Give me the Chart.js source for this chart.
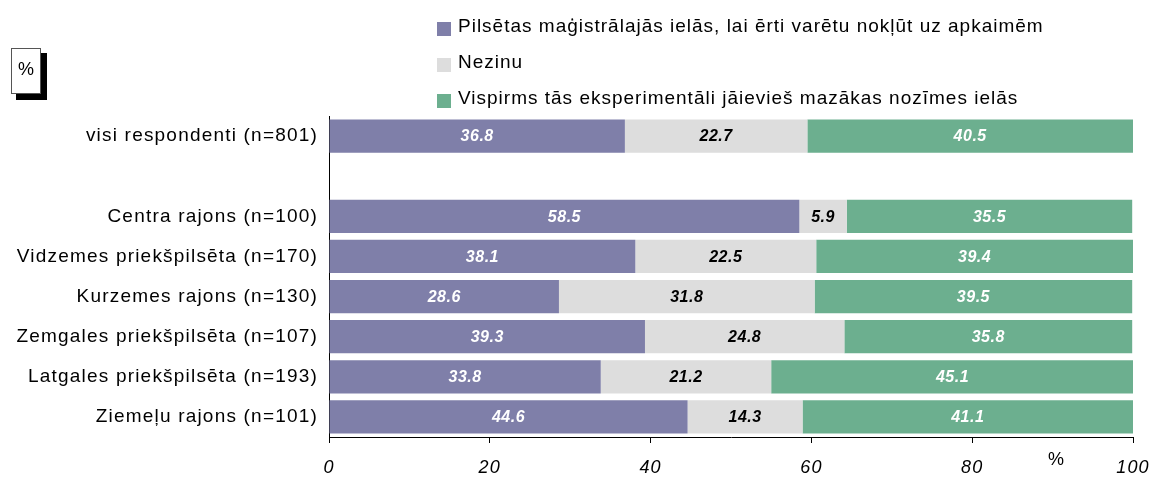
<!DOCTYPE html>
<html>
<head>
<meta charset="utf-8">
<script src="https://cdn.jsdelivr.net/npm/chart.js@4.4.1/dist/chart.umd.min.js"></script>
<style>
    html, body { margin: 0; padding: 0; background: #fff; }
    #wrap { width: 1153px; height: 477px; }
</style>
</head>
<body>
<div id="wrap"><canvas id="myChart" width="1153" height="477"></canvas></div>
<script>
// categories (empty one is the gap row under "visi respondenti")
const categories = [
    'visi respondenti (n=801)',
    '',
    'Centra rajons (n=100)',
    'Vidzemes priekšpilsēta (n=170)',
    'Kurzemes rajons (n=130)',
    'Zemgales priekšpilsēta (n=107)',
    'Latgales priekšpilsēta (n=193)',
    'Ziemeļu rajons (n=101)'
];
const seriesNames = [
    'Pilsētas maģistrālajās ielās, lai ērti varētu nokļūt uz apkaimēm',
    'Nezinu',
    'Vispirms tās eksperimentāli jāievieš mazākas nozīmes ielās'
];
const mainStreets = [36.8, null, 58.5, 38.1, 28.6, 39.3, 33.8, 44.6];
const dontKnow = [22.7, null, 5.9, 22.5, 31.8, 24.8, 21.2, 14.3];
const minorStreets = [40.5, null, 35.5, 39.4, 39.5, 35.8, 45.1, 41.1];
const xTicks = [0, 20, 40, 60, 80, 100];

const colors = ['#7f7fa9', '#dddddd', '#6caf8f'];
const labelColors = ['#ffffff', '#000000', '#ffffff'];
const fontFamily = '"Liberation Sans", Arial, sans-serif';

const barLabels = {
    id: 'barLabels',
    beforeDraw(chart) {
        chart.ctx.letterSpacing = '1.2px';
    },
    afterDatasetsDraw(chart) {
        const ctx = chart.ctx;
        ctx.save();
        ctx.letterSpacing = '0.5px';
        ctx.font = 'italic bold 16px ' + fontFamily;
        ctx.textAlign = 'center';
        ctx.textBaseline = 'middle';
        chart.data.datasets.forEach((ds, i) => {
            const meta = chart.getDatasetMeta(i);
            meta.data.forEach((bar, j) => {
                const v = ds.data[j];
                if (v == null) return;
                ctx.fillStyle = labelColors[i];
                ctx.fillText(v.toFixed(1), (bar.x + bar.base) / 2, bar.y + 1);
            });
        });
        ctx.restore();
    },
    afterDraw(chart) {
        const ctx = chart.ctx;
        ctx.save();
        // legend
        ctx.letterSpacing = '1px';
        ctx.font = '19px ' + fontFamily;
        ctx.textAlign = 'left';
        ctx.textBaseline = 'alphabetic';
        chart.data.datasets.forEach((ds, i) => {
            const base = 32 + i * 36;
            ctx.fillStyle = ds.backgroundColor;
            ctx.fillRect(437, base - 10, 14, 14);
            ctx.fillStyle = '#000';
            ctx.fillText(ds.label, 458, base);
        });
        // "%" box in the corner
        ctx.fillStyle = '#000';
        ctx.fillRect(16, 53, 31, 47);
        ctx.fillStyle = '#fff';
        ctx.fillRect(11, 48, 30, 46);
        ctx.strokeStyle = '#555';
        ctx.lineWidth = 1;
        ctx.strokeRect(11.5, 48.5, 29, 45);
        ctx.fillStyle = '#000';
        ctx.letterSpacing = '0px';
        ctx.font = '18px ' + fontFamily;
        ctx.textAlign = 'center';
        ctx.textBaseline = 'middle';
        ctx.fillText('%', 26, 70);
        // axis unit
        ctx.fillText('%', 1056, 460);
        ctx.restore();
    }
};

const ctx = document.getElementById('myChart').getContext('2d');
const chart = new Chart(ctx, {
    type: 'bar',
    data: {
        labels: categories,
        datasets: [
            { label: seriesNames[0], data: mainStreets, backgroundColor: colors[0] },
            { label: seriesNames[1], data: dontKnow, backgroundColor: colors[1] },
            { label: seriesNames[2], data: minorStreets, backgroundColor: colors[2] }
        ]
    },
    options: {
        indexAxis: 'y',
        responsive: false,
        animation: false,
        devicePixelRatio: 1,
        barPercentage: 0.83,
        categoryPercentage: 1,
        layout: { padding: { top: 116, right: 20, left: 0, bottom: 0 } },
        plugins: {
            legend: { display: false },
            tooltip: { enabled: false }
        },
        scales: {
            x: {
                stacked: true,
                min: 0,
                max: 100,
                afterBuildTicks: scale => {
                    scale.ticks = xTicks.map(v => ({ value: v }));
                },
                afterFit: scale => {
                    scale.height = 40;
                    scale.paddingLeft = 0;
                    scale.paddingRight = 0;
                },
                ticks: {
                    color: '#000',
                    font: { family: fontFamily, size: 18, style: 'italic' },
                    padding: 14,
                    maxRotation: 0
                },
                grid: { drawOnChartArea: false, drawTicks: true, tickLength: 6, color: '#000' },
                border: { color: '#000', width: 1 }
            },
            y: {
                stacked: true,
                afterFit: scale => { scale.width = 329; },
                ticks: {
                    color: '#000',
                    font: { family: fontFamily, size: 19 },
                    padding: 11
                },
                grid: { drawOnChartArea: false, drawTicks: false },
                border: { color: '#000', width: 1 }
            }
        }
    },
    plugins: [barLabels]
});
</script>
</body>
</html>
